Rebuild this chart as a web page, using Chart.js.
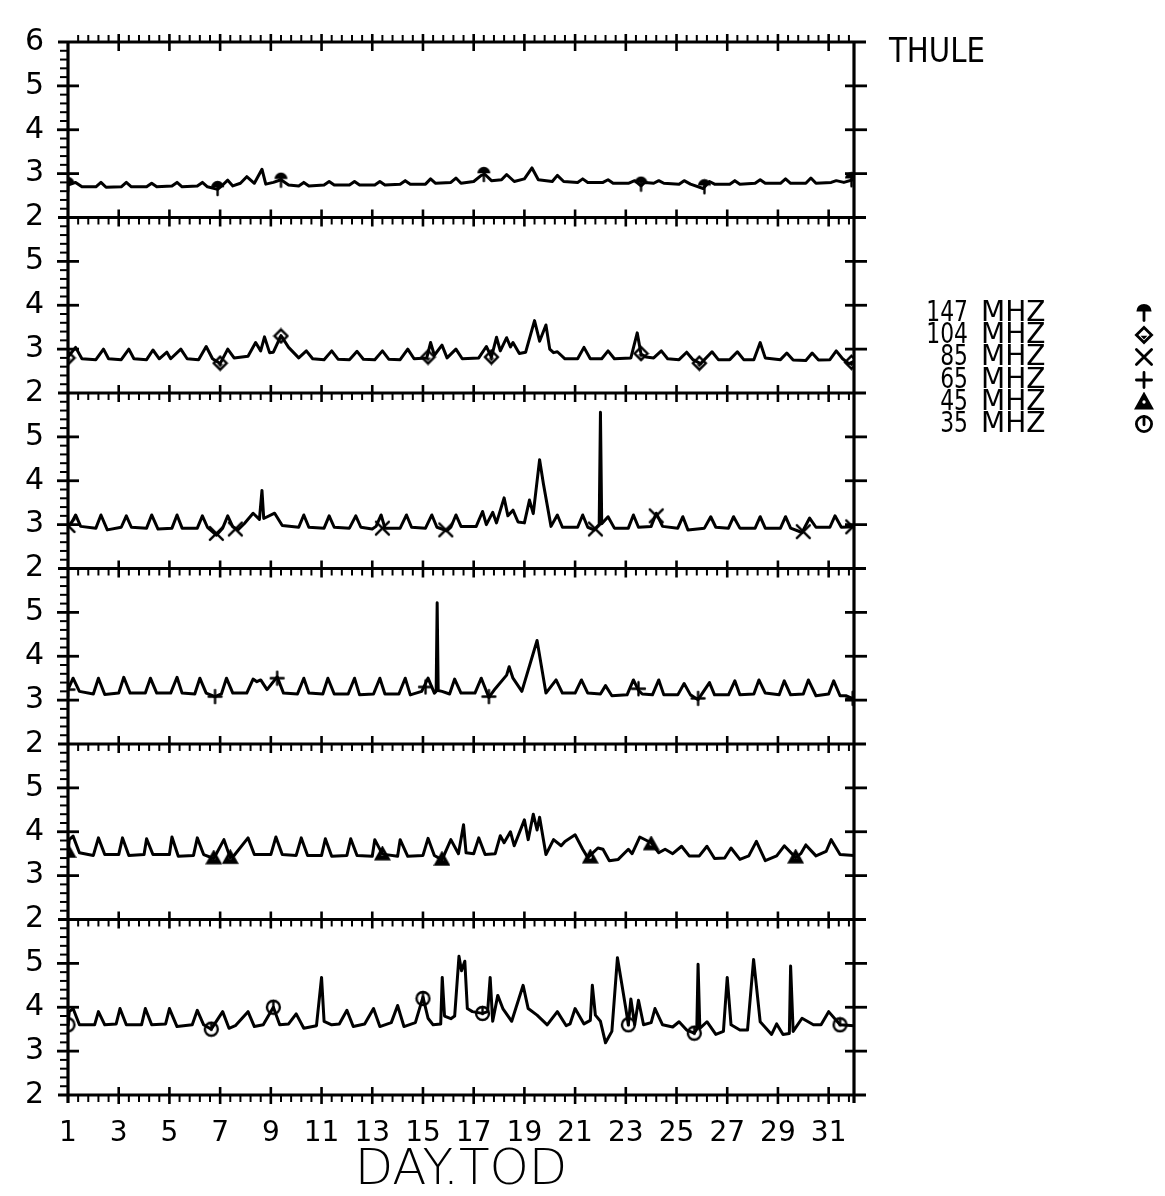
<!DOCTYPE html>
<html>
<head>
<meta charset="utf-8">
<script src="https://cdn.jsdelivr.net/npm/chart.js@4.4.0/dist/chart.umd.min.js"></script>
<style>
  html, body { margin: 0; padding: 0; background: #fff; }
  #wrap { position: relative; width: 1165px; height: 1196px; }
</style>
</head>
<body>
<div id="wrap"><canvas id="riometer" width="1165" height="1196"></canvas></div>
<script>
// axis ticks and labels
const dayTicks = [1, 3, 5, 7, 9, 11, 13, 15, 17, 19, 21, 23, 25, 27, 29, 31];
const yTicks = [2, 3, 4, 5, 6];
const freqLabels = ["147 MHZ", "104 MHZ", "85 MHZ", "65 MHZ", "45 MHZ", "35 MHZ"];
const station = "THULE";
const xTitle = "DAY.TOD";

// traces: [day.tod, value]
const mhz147 = [
  [1.0, 2.74], [1.3, 2.8], [1.55, 2.7],
  [2.1, 2.7], [2.3, 2.8], [2.5, 2.69],
  [3.1, 2.7], [3.3, 2.8], [3.5, 2.7],
  [4.1, 2.7], [4.3, 2.78], [4.5, 2.7],
  [5.1, 2.72], [5.3, 2.8], [5.5, 2.7],
  [6.1, 2.72], [6.3, 2.8], [6.5, 2.7], [6.9, 2.64],
  [7.1, 2.74], [7.3, 2.85], [7.5, 2.72],
  [7.8, 2.78], [8.05, 2.93], [8.35, 2.78], [8.65, 3.1], [8.8, 2.76],
  [9.1, 2.8], [9.4, 2.86], [9.7, 2.74],
  [10.1, 2.72], [10.3, 2.8], [10.5, 2.72],
  [11.1, 2.74], [11.3, 2.82], [11.5, 2.74],
  [12.1, 2.74], [12.3, 2.82], [12.5, 2.74],
  [13.1, 2.74], [13.3, 2.82], [13.5, 2.74],
  [14.1, 2.76], [14.3, 2.84], [14.5, 2.76],
  [15.1, 2.76], [15.3, 2.88], [15.5, 2.78],
  [16.1, 2.8], [16.3, 2.9], [16.5, 2.78],
  [17.0, 2.82], [17.3, 2.96], [17.45, 2.98], [17.7, 2.84],
  [18.1, 2.86], [18.3, 2.98], [18.6, 2.82],
  [19.0, 2.88], [19.3, 3.13], [19.55, 2.86],
  [20.1, 2.82], [20.3, 2.96], [20.55, 2.82],
  [21.1, 2.8], [21.3, 2.88], [21.5, 2.8],
  [22.1, 2.8], [22.3, 2.86], [22.5, 2.78],
  [23.1, 2.78], [23.35, 2.84], [23.6, 2.72], [23.75, 2.8],
  [24.1, 2.78], [24.3, 2.84], [24.5, 2.78],
  [25.1, 2.76], [25.3, 2.84], [25.55, 2.76],
  [26.05, 2.66], [26.3, 2.82], [26.5, 2.76],
  [27.1, 2.76], [27.3, 2.84], [27.5, 2.76],
  [28.1, 2.78], [28.3, 2.86], [28.5, 2.78],
  [29.1, 2.78], [29.3, 2.88], [29.5, 2.78],
  [30.1, 2.78], [30.3, 2.9], [30.5, 2.78],
  [31.1, 2.8], [31.3, 2.84], [31.6, 2.8], [32.0, 2.87]
];
const mhz104 = [
  [1.0, 2.82], [1.3, 3.04], [1.55, 2.78],
  [2.1, 2.76], [2.4, 3.0], [2.6, 2.78],
  [3.1, 2.76], [3.4, 3.0], [3.6, 2.78],
  [4.1, 2.76], [4.35, 2.98], [4.6, 2.78], [4.9, 2.93], [5.05, 2.78],
  [5.45, 3.0], [5.7, 2.78],
  [6.15, 2.76], [6.45, 3.06], [6.7, 2.78], [7.0, 2.67],
  [7.3, 3.0], [7.55, 2.8], [8.1, 2.84],
  [8.4, 3.15], [8.6, 2.96], [8.75, 3.28], [8.95, 2.92], [9.1, 2.93], [9.4, 3.31], [9.7, 3.04],
  [10.1, 2.8], [10.4, 2.96], [10.65, 2.78],
  [11.1, 2.76], [11.4, 2.96], [11.65, 2.77],
  [12.1, 2.76], [12.4, 2.95], [12.65, 2.77],
  [13.1, 2.76], [13.4, 2.96], [13.65, 2.77],
  [14.1, 2.76], [14.4, 3.0], [14.65, 2.78],
  [15.15, 2.8], [15.3, 3.15], [15.45, 2.86], [15.75, 3.09], [15.95, 2.8],
  [16.3, 3.0], [16.55, 2.78],
  [17.2, 2.8], [17.5, 3.06], [17.7, 2.82], [17.9, 3.27], [18.05, 2.96], [18.3, 3.26],
  [18.45, 3.05], [18.55, 3.15], [18.8, 2.9],
  [19.05, 2.93], [19.4, 3.65], [19.6, 3.18], [19.85, 3.55], [20.0, 3.0], [20.15, 2.92],
  [20.3, 2.94], [20.6, 2.78],
  [21.1, 2.78], [21.35, 3.04], [21.6, 2.78],
  [22.05, 2.78], [22.3, 2.96], [22.55, 2.78],
  [23.2, 2.8], [23.45, 3.37], [23.6, 2.89], [23.8, 2.82],
  [24.1, 2.8], [24.4, 2.96], [24.65, 2.78],
  [25.1, 2.76], [25.4, 2.93], [25.65, 2.76], [25.95, 2.67],
  [26.4, 2.94], [26.65, 2.76],
  [27.1, 2.76], [27.4, 2.94], [27.65, 2.76],
  [28.05, 2.76], [28.3, 3.15], [28.5, 2.8],
  [29.1, 2.76], [29.35, 2.91], [29.6, 2.75],
  [30.1, 2.74], [30.35, 2.91], [30.6, 2.75],
  [31.05, 2.76], [31.3, 2.96], [31.55, 2.78], [31.8, 2.67], [32.0, 2.72]
];
const mhz85 = [
  [1.0, 2.96], [1.1, 3.0], [1.3, 3.22], [1.5, 2.96],
  [2.1, 2.92], [2.3, 3.22], [2.55, 2.88],
  [3.1, 2.94], [3.3, 3.2], [3.5, 2.94],
  [4.1, 2.92], [4.3, 3.22], [4.55, 2.9],
  [5.1, 2.92], [5.3, 3.22], [5.5, 2.92],
  [6.1, 2.92], [6.3, 3.2], [6.5, 2.94], [6.85, 2.76],
  [7.1, 2.92], [7.3, 3.2], [7.5, 2.95], [7.7, 2.88],
  [7.95, 3.02], [8.3, 3.26], [8.55, 3.12], [8.65, 3.78], [8.72, 3.14], [9.15, 3.26], [9.45, 2.98],
  [10.1, 2.94], [10.3, 3.22], [10.5, 2.94],
  [11.1, 2.92], [11.3, 3.2], [11.5, 2.94],
  [12.1, 2.92], [12.35, 3.2], [12.55, 2.94],
  [13.0, 2.9], [13.15, 2.96], [13.35, 3.22], [13.5, 2.92],
  [14.1, 2.92], [14.35, 3.22], [14.55, 2.94],
  [15.1, 2.92], [15.35, 3.22], [15.55, 2.94], [15.95, 2.86],
  [16.1, 2.94], [16.3, 3.22], [16.5, 2.96],
  [17.1, 2.96], [17.35, 3.3], [17.5, 3.0], [17.75, 3.28], [17.9, 3.04], [18.2, 3.61],
  [18.35, 3.2], [18.55, 3.33], [18.75, 3.06],
  [19.0, 3.04], [19.2, 3.56], [19.35, 3.25], [19.6, 4.48], [19.75, 3.93], [20.05, 2.96],
  [20.3, 3.22], [20.5, 2.94],
  [21.1, 2.94], [21.3, 3.22], [21.5, 2.94], [21.75, 2.88], [21.95, 3.0], [22.0, 5.56], [22.05, 3.02],
  [22.3, 3.18], [22.55, 2.92],
  [23.1, 2.92], [23.3, 3.22], [23.5, 2.94],
  [24.0, 2.96], [24.2, 3.26], [24.45, 2.96],
  [25.05, 2.92], [25.25, 3.18], [25.45, 2.88],
  [26.1, 2.92], [26.35, 3.18], [26.55, 2.94],
  [27.05, 2.92], [27.25, 3.18], [27.5, 2.92],
  [28.1, 2.92], [28.3, 3.18], [28.5, 2.92],
  [29.1, 2.92], [29.3, 3.18], [29.5, 2.92], [29.95, 2.82],
  [30.25, 3.15], [30.5, 2.94],
  [31.05, 2.94], [31.25, 3.2], [31.5, 2.94], [32.0, 2.95]
];
const mhz65 = [
  [1.0, 3.24], [1.2, 3.5], [1.45, 3.2],
  [2.0, 3.14], [2.2, 3.5], [2.45, 3.13],
  [3.0, 3.16], [3.2, 3.52], [3.45, 3.16],
  [4.05, 3.16], [4.25, 3.5], [4.5, 3.16],
  [5.05, 3.16], [5.3, 3.52], [5.5, 3.16],
  [6.0, 3.14], [6.2, 3.5], [6.45, 3.16], [6.8, 3.08],
  [7.05, 3.14], [7.25, 3.5], [7.5, 3.16],
  [8.05, 3.16], [8.3, 3.48], [8.45, 3.42], [8.6, 3.46], [8.85, 3.24],
  [9.25, 3.53], [9.5, 3.16],
  [10.05, 3.14], [10.3, 3.5], [10.5, 3.16],
  [11.05, 3.14], [11.25, 3.5], [11.5, 3.14],
  [12.05, 3.14], [12.3, 3.5], [12.5, 3.12],
  [13.05, 3.14], [13.3, 3.5], [13.5, 3.14],
  [14.05, 3.14], [14.3, 3.5], [14.5, 3.12],
  [14.95, 3.2], [15.2, 3.5], [15.45, 3.16], [15.52, 3.2], [15.56, 5.22], [15.6, 3.22], [15.75, 3.2],
  [16.05, 3.14], [16.25, 3.48], [16.5, 3.16],
  [17.05, 3.16], [17.3, 3.5], [17.6, 3.06], [17.85, 3.26],
  [18.3, 3.57], [18.4, 3.76], [18.55, 3.5], [18.9, 3.2],
  [19.5, 4.36], [19.85, 3.16],
  [20.25, 3.46], [20.5, 3.16],
  [21.0, 3.16], [21.25, 3.46], [21.5, 3.16],
  [22.0, 3.14], [22.2, 3.33], [22.45, 3.1],
  [23.05, 3.12], [23.3, 3.46], [23.5, 3.22], [23.65, 3.14],
  [24.05, 3.12], [24.3, 3.46], [24.5, 3.12],
  [25.05, 3.12], [25.3, 3.38], [25.55, 3.12], [25.85, 3.01],
  [26.3, 3.4], [26.5, 3.12],
  [27.05, 3.12], [27.3, 3.44], [27.5, 3.12],
  [28.05, 3.14], [28.25, 3.46], [28.5, 3.16],
  [29.05, 3.12], [29.25, 3.44], [29.5, 3.12],
  [30.0, 3.14], [30.2, 3.46], [30.5, 3.1],
  [31.0, 3.14], [31.2, 3.44], [31.45, 3.1], [31.7, 3.1], [32.0, 3.02]
];
const mhz45 = [
  [1.0, 3.52], [1.05, 3.82], [1.2, 3.9], [1.45, 3.52],
  [2.0, 3.46], [2.2, 3.86], [2.45, 3.48],
  [3.0, 3.48], [3.15, 3.86], [3.4, 3.46],
  [4.0, 3.48], [4.1, 3.84], [4.35, 3.48],
  [5.0, 3.48], [5.1, 3.88], [5.35, 3.44],
  [5.95, 3.46], [6.1, 3.86], [6.35, 3.48], [6.75, 3.39],
  [7.15, 3.82], [7.4, 3.41], [7.55, 3.46],
  [8.1, 3.86], [8.35, 3.48],
  [9.0, 3.48], [9.2, 3.88], [9.45, 3.48],
  [10.0, 3.46], [10.2, 3.86], [10.45, 3.46],
  [11.0, 3.46], [11.15, 3.84], [11.4, 3.44],
  [12.0, 3.46], [12.15, 3.84], [12.4, 3.46],
  [13.0, 3.44], [13.1, 3.82], [13.4, 3.49],
  [14.0, 3.44], [14.1, 3.82], [14.4, 3.44],
  [15.0, 3.46], [15.2, 3.85], [15.45, 3.46], [15.75, 3.36],
  [16.1, 3.82], [16.4, 3.5], [16.6, 4.16], [16.7, 3.52],
  [17.0, 3.5], [17.2, 3.86], [17.45, 3.48],
  [17.85, 3.5], [18.05, 3.91], [18.2, 3.75], [18.45, 4.0], [18.6, 3.68],
  [19.0, 4.27], [19.15, 3.82], [19.35, 4.4], [19.5, 4.04], [19.6, 4.33], [19.85, 3.48],
  [20.15, 3.82], [20.45, 3.68], [20.6, 3.78],
  [21.0, 3.93], [21.3, 3.6], [21.5, 3.41], [21.9, 3.63], [22.1, 3.6], [22.35, 3.34], [22.7, 3.37],
  [23.1, 3.6], [23.25, 3.5], [23.55, 3.88], [24.0, 3.75],
  [24.3, 3.52], [24.55, 3.6], [24.85, 3.5],
  [25.2, 3.67], [25.5, 3.45], [25.9, 3.45],
  [26.2, 3.67], [26.5, 3.39], [26.9, 3.4],
  [27.15, 3.63], [27.5, 3.37], [27.85, 3.45],
  [28.15, 3.78], [28.5, 3.34], [28.95, 3.45],
  [29.25, 3.68], [29.7, 3.41], [29.9, 3.5],
  [30.1, 3.7], [30.5, 3.45], [30.9, 3.55],
  [31.1, 3.82], [31.45, 3.48], [32.0, 3.46]
];
const mhz35 = [
  [1.0, 3.6], [1.05, 3.9], [1.2, 3.97], [1.45, 3.6],
  [2.05, 3.6], [2.2, 3.9], [2.45, 3.6],
  [2.9, 3.62], [3.05, 3.97], [3.3, 3.6],
  [3.9, 3.6], [4.05, 3.97], [4.3, 3.6],
  [4.85, 3.62], [5.0, 3.97], [5.3, 3.56],
  [5.9, 3.6], [6.1, 3.93], [6.35, 3.6], [6.65, 3.5],
  [7.1, 3.9], [7.35, 3.52], [7.6, 3.58],
  [8.1, 3.9], [8.35, 3.56], [8.7, 3.6],
  [9.1, 4.0], [9.35, 3.6], [9.7, 3.62],
  [10.0, 3.85], [10.3, 3.52], [10.8, 3.58],
  [11.0, 4.68], [11.1, 3.68], [11.4, 3.6], [11.7, 3.62],
  [12.0, 3.93], [12.25, 3.56], [12.7, 3.62],
  [13.05, 3.97], [13.3, 3.56], [13.75, 3.65],
  [14.0, 4.04], [14.25, 3.56], [14.7, 3.65],
  [15.0, 4.23], [15.2, 3.75], [15.4, 3.6], [15.7, 3.62], [15.76, 4.68], [15.85, 3.8], [16.1, 3.74],
  [16.25, 3.8], [16.42, 5.16], [16.52, 4.83], [16.65, 5.05], [16.75, 3.97], [16.95, 3.9],
  [17.35, 3.86], [17.55, 3.9], [17.65, 4.68], [17.75, 3.68], [17.95, 4.27], [18.15, 3.97], [18.5, 3.68],
  [18.95, 4.5], [19.15, 3.97], [19.5, 3.82], [19.9, 3.6],
  [20.3, 3.9], [20.65, 3.58], [20.8, 3.62],
  [21.0, 3.97], [21.35, 3.62], [21.6, 3.7], [21.68, 4.5], [21.8, 3.82], [22.0, 3.68],
  [22.2, 3.19], [22.45, 3.45], [22.67, 5.13], [22.85, 4.5], [23.0, 3.97], [23.1, 3.6],
  [23.2, 4.19], [23.35, 3.6], [23.5, 4.16], [23.7, 3.6],
  [24.0, 3.65], [24.15, 3.97], [24.45, 3.6], [24.85, 3.55],
  [25.1, 3.67], [25.4, 3.48], [25.7, 3.41], [25.8, 3.5], [25.85, 4.98], [25.92, 3.52],
  [26.2, 3.67], [26.55, 3.38], [26.85, 3.45], [27.0, 4.68], [27.15, 3.6], [27.5, 3.48],
  [27.8, 3.48], [28.04, 5.09], [28.3, 3.67], [28.75, 3.38], [28.95, 3.62], [29.2, 3.38],
  [29.45, 3.4], [29.5, 4.94], [29.6, 3.45], [29.95, 3.75], [30.4, 3.6], [30.7, 3.6],
  [31.0, 3.9], [31.45, 3.6], [32.0, 3.58]
];

// plotting symbols placed along each trace
const mark147 = [[1.0, 2.75], [6.9, 2.66], [9.4, 2.85], [17.4, 2.98], [23.6, 2.76], [26.1, 2.7], [31.9, 2.86]];
const mark104 = [[1.0, 2.8], [7.0, 2.68], [9.4, 3.3], [15.2, 2.82], [17.7, 2.82], [23.6, 2.9], [25.9, 2.68], [31.9, 2.7]];
const mark85 = [[1.0, 2.98], [6.85, 2.8], [7.6, 2.9], [13.4, 2.92], [15.9, 2.88], [21.8, 2.9], [24.2, 3.2], [30.0, 2.84], [31.95, 2.95]];
const mark65 = [[1.0, 3.24], [6.8, 3.08], [9.25, 3.5], [15.1, 3.3], [17.6, 3.08], [23.5, 3.26], [25.85, 3.04], [31.95, 3.04]];
const mark45 = [[1.0, 3.55], [6.75, 3.4], [7.4, 3.41], [13.4, 3.49], [15.75, 3.37], [21.6, 3.42], [24.0, 3.72], [29.7, 3.42]];
const mark35 = [[1.0, 3.6], [6.65, 3.5], [9.1, 4.0], [15.0, 4.2], [17.35, 3.86], [23.1, 3.6], [25.7, 3.41], [31.45, 3.6]];

const fontFamily = "'DejaVu Sans', 'Liberation Sans', sans-serif";
const ink = "#000";

// small symbol images, used on the traces and in the key
const makeSymbol = (kind, size) => {
  const c = document.createElement("canvas");
  c.width = size;
  c.height = size;
  const g = c.getContext("2d");
  const m = size / 2;
  const r = size * 0.38;
  g.strokeStyle = ink;
  g.fillStyle = ink;
  g.lineWidth = Math.max(2.2, size * 0.14);
  g.lineCap = "round";
  g.beginPath();
  if (kind === "umbrella") {
    g.arc(m, m - r * 0.2, r, Math.PI, 0);
    g.closePath();
    g.fill();
    g.beginPath();
    g.moveTo(m, m - r * 0.2);
    g.lineTo(m, m + r);
    g.stroke();
  } else if (kind === "diamond") {
    g.moveTo(m, m - r);
    g.lineTo(m + r, m);
    g.lineTo(m, m + r);
    g.lineTo(m - r, m);
    g.closePath();
    g.stroke();
    g.beginPath();
    g.moveTo(m - r * 0.45, m + r * 0.1);
    g.lineTo(m, m + r * 0.6);
    g.lineTo(m + r * 0.45, m + r * 0.1);
    g.closePath();
    g.fill();
  } else if (kind === "x") {
    g.moveTo(m - r, m - r);
    g.lineTo(m + r, m + r);
    g.moveTo(m + r, m - r);
    g.lineTo(m - r, m + r);
    g.stroke();
  } else if (kind === "plus") {
    g.moveTo(m - r, m);
    g.lineTo(m + r, m);
    g.moveTo(m, m - r);
    g.lineTo(m, m + r);
    g.stroke();
  } else if (kind === "triangle") {
    g.moveTo(m, m - r);
    g.lineTo(m + r, m + r * 0.8);
    g.lineTo(m - r, m + r * 0.8);
    g.closePath();
    g.fill();
    g.stroke();
    g.fillStyle = "#fff";
    g.beginPath();
    g.arc(m, m, r * 0.22, 0, Math.PI * 2);
    g.fill();
  } else {
    g.arc(m, m, r, 0, Math.PI * 2);
    g.stroke();
    g.beginPath();
    g.moveTo(m, m - r);
    g.lineTo(m, m + r * 0.1);
    g.stroke();
  }
  return c;
};

// top panel first
const panels = [
  { id: "y147", line: mhz147, marks: mark147, sym: "umbrella" },
  { id: "y104", line: mhz104, marks: mark104, sym: "diamond" },
  { id: "y85", line: mhz85, marks: mark85, sym: "x" },
  { id: "y65", line: mhz65, marks: mark65, sym: "plus" },
  { id: "y45", line: mhz45, marks: mark45, sym: "triangle" },
  { id: "y35", line: mhz35, marks: mark35, sym: "circle" },
];

const datasets = [];
panels.forEach((p) => {
  datasets.push({
    data: p.line,
    yAxisID: p.id,
    borderColor: ink,
    borderWidth: 3,
    borderJoinStyle: "round",
    borderCapStyle: "round",
    pointRadius: 0,
    tension: 0,
    fill: false,
  });
  datasets.push({
    data: p.marks,
    yAxisID: p.id,
    showLine: false,
    pointStyle: makeSymbol(p.sym, 17),
    pointRadius: 8,
  });
});

const scales = {
  x: {
    type: "linear",
    min: 1,
    max: 32,
    position: "bottom",
    afterBuildTicks: (s) => { s.ticks = dayTicks.map((v) => ({ value: v })); },
    afterFit: (s) => { s.height = 101; },
    grid: { display: false, drawTicks: false },
    border: { display: false },
    ticks: { color: ink, padding: 22, autoSkip: false, maxRotation: 0, font: { family: fontFamily, size: 28 } },
    title: {
      display: true, text: xTitle, color: ink, padding: { top: 0, bottom: 0 },
      font: { family: fontFamily, size: 50, weight: "200", lineHeight: 1.0 },
    },
  },
};
// stacked axes are laid out bottom-up, so add the lowest panel first
[...panels].reverse().forEach((p) => {
  scales[p.id] = {
    type: "linear",
    position: "left",
    stack: "panels",
    stackWeight: 1,
    min: 2,
    max: 6,
    afterBuildTicks: (s) => { s.ticks = yTicks.map((v) => ({ value: v })); },
    afterFit: (s) => { s.width = 68; },
    grid: { display: false, drawTicks: false },
    border: { display: false },
    ticks: {
      color: ink,
      padding: 24,
      autoSkip: false,
      font: { family: fontFamily, size: 30 },
      callback: (v) => (v === 6 && p.id !== panels[0].id ? "" : String(v)),
    },
  };
});

const seg = (ctx, x1, y1, x2, y2) => {
  ctx.beginPath();
  ctx.moveTo(x1, y1);
  ctx.lineTo(x2, y2);
  ctx.stroke();
};

// frame of every panel with the plotter style tick marks
const framePlugin = {
  id: "frame",
  afterDatasetsDraw(chart) {
    const { ctx, chartArea: a, scales: sc } = chart;
    const xs = sc.x;
    ctx.save();
    ctx.strokeStyle = ink;
    ctx.lineCap = "butt";
    ctx.lineWidth = 3.2;
    seg(ctx, a.left, a.top - 1, a.left, a.bottom + 8);
    seg(ctx, a.right, a.top - 1, a.right, a.bottom + 8);
    const edges = [sc[panels[0].id].getPixelForValue(6)];
    panels.forEach((p) => edges.push(sc[p.id].getPixelForValue(2)));
    edges.forEach((y, k) => {
      ctx.lineWidth = 3.2;
      seg(ctx, a.left - 10, y, a.right + 12, y);
      for (let d = 3; d <= 31; d += 2) {
        const x = xs.getPixelForValue(d);
        ctx.lineWidth = 2.6;
        seg(ctx, x, y - 8, x, y + 9);
      }
      const dir = k === 0 ? -1 : 1;
      ctx.lineWidth = 2;
      for (let j = 1; j * 0.4 < 31; j++) {
        if (j % 5 === 0) continue;
        const x = xs.getPixelForValue(1 + j * 0.4);
        seg(ctx, x, y, x, y + dir * 7);
      }
    });
    panels.forEach((p) => {
      const s = sc[p.id];
      for (let v = 3; v <= 5; v++) {
        const y = s.getPixelForValue(v);
        ctx.lineWidth = 2.8;
        seg(ctx, a.left - 11, y, a.left + 11, y);
        seg(ctx, a.right - 9, y, a.right + 13, y);
      }
      ctx.lineWidth = 2;
      for (let j = 1; j < 20; j++) {
        if (j % 5 === 0) continue;
        const y = s.getPixelForValue(2 + j * 0.2);
        seg(ctx, a.left - 8, y, a.left, y);
      }
    });
    ctx.restore();
  },
  afterDraw(chart) {
    const { ctx } = chart;
    ctx.save();
    ctx.fillStyle = ink;
    ctx.textBaseline = "alphabetic";
    ctx.textAlign = "left";
    ctx.font = "34px " + fontFamily;
    ctx.save();
    ctx.translate(889, 62);
    ctx.scale(0.86, 1);
    ctx.fillText(station, 0, 0);
    ctx.restore();
    const rowY = [313, 335, 357, 380, 402, 424];
    freqLabels.forEach((lab, i) => {
      const [num, unit] = lab.split(" ");
      ctx.textBaseline = "middle";
      ctx.save();
      ctx.translate(968, rowY[i] + 1);
      ctx.scale(0.78, 1);
      ctx.textAlign = "right";
      ctx.font = "28px " + fontFamily;
      ctx.fillText(num, 0, 0);
      ctx.restore();
      ctx.textAlign = "left";
      ctx.font = "28px " + fontFamily;
      ctx.fillText(unit, 981, rowY[i] + 1);
      const img = makeSymbol(panels[i].sym, 20);
      ctx.drawImage(img, 1144 - 10, rowY[i] - 10);
    });
    ctx.restore();
  },
};

new Chart(document.getElementById("riometer"), {
  type: "line",
  data: { datasets },
  options: {
    responsive: false,
    animation: false,
    layout: { padding: { left: 0, top: 22, right: 311, bottom: 0 } },
    plugins: { legend: { display: false }, tooltip: { enabled: false } },
    scales,
  },
  plugins: [framePlugin],
});
</script>
</body>
</html>
